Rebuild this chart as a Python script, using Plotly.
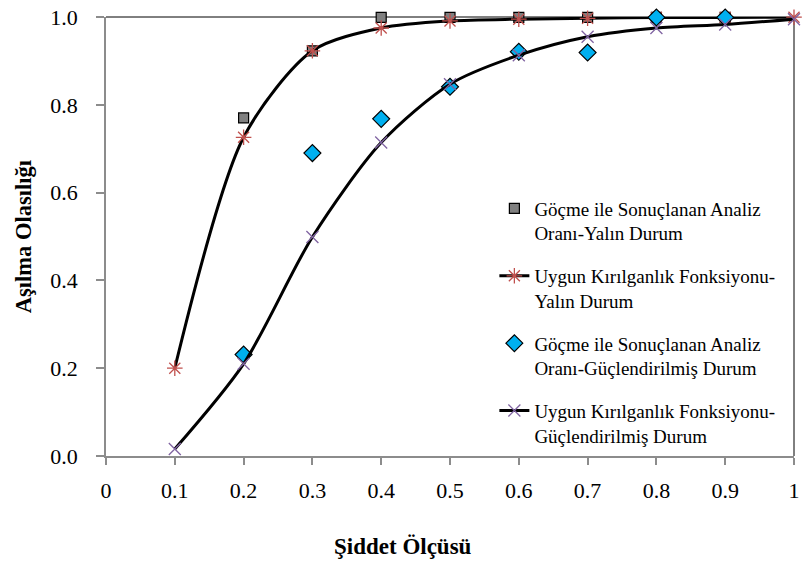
import plotly.graph_objects as go

# Intensity measure values (x axis)
im_all = [0.1, 0.2, 0.3, 0.4, 0.5, 0.6, 0.7, 0.8, 0.9, 1.0]
im_obs = [0.2, 0.3, 0.4, 0.5, 0.6, 0.7, 0.8, 0.9]

# Collapse ratio from analyses - bare frame
collapse_bare = [0.77, 0.923, 0.999, 0.999, 0.999, 0.999, 0.999, 0.999]
# Fitted fragility function - bare frame
fit_bare = [0.20, 0.726, 0.923, 0.975, 0.991, 0.995, 0.997, 0.999, 0.999, 0.9995]
# Collapse ratio from analyses - retrofitted frame
collapse_retro = [0.231, 0.690, 0.768, 0.841, 0.921, 0.919, 0.999, 0.999]
# Fitted fragility function - retrofitted frame
fit_retro = [0.016, 0.21, 0.499, 0.714, 0.847, 0.913, 0.955, 0.975, 0.983, 0.995]

x_tick_vals = [0, 0.1, 0.2, 0.3, 0.4, 0.5, 0.6, 0.7, 0.8, 0.9, 1.0]
x_tick_text = ["0", "0.1", "0.2", "0.3", "0.4", "0.5", "0.6", "0.7", "0.8", "0.9", "1"]
y_tick_vals = [0.0, 0.2, 0.4, 0.6, 0.8, 1.0]

names = [
    "Göçme ile Sonuçlanan Analiz<br>Oranı-Yalın Durum",
    "Uygun Kırılganlık Fonksiyonu-<br>Yalın Durum",
    "Göçme ile Sonuçlanan Analiz<br>Oranı-Güçlendirilmiş Durum",
    "Uygun Kırılganlık Fonksiyonu-<br>Güçlendirilmiş Durum",
]

serif = "Times New Roman"
W, H = 805, 565
M_L, M_R, M_T, M_B = 106, 5, 16, 109
plot_w = W - M_L - M_R
plot_h = H - M_T - M_B

fig = go.Figure()

fig.add_trace(go.Scatter(
    x=im_obs, y=collapse_bare, mode="markers", name=names[0], legendgroup="g1",
    marker=dict(symbol="square", size=10, color="#808080",
                line=dict(color="black", width=1.2)),
    cliponaxis=False,
))
fig.add_trace(go.Scatter(
    x=im_all, y=fit_bare, mode="lines+markers", name=names[1], legendgroup="g2",
    line=dict(color="black", width=3, shape="spline", smoothing=0.8),
    marker=dict(symbol="asterisk-open", size=13, color="#C0504D",
                line=dict(color="#C0504D", width=1.3)),
    cliponaxis=False,
))
fig.add_trace(go.Scatter(
    x=im_obs, y=collapse_retro, mode="markers", name=names[2], legendgroup="g3",
    marker=dict(symbol="diamond", size=13, color="#00B0F0",
                line=dict(color="black", width=1.2)),
    cliponaxis=False,
))
fig.add_trace(go.Scatter(
    x=im_all, y=fit_retro, mode="lines+markers", name=names[3], legendgroup="g4",
    line=dict(color="black", width=3, shape="spline", smoothing=0.8),
    marker=dict(symbol="x-thin-open", size=12, color="#8064A2",
                line=dict(color="#8064A2", width=1.3)),
    cliponaxis=False,
))

axis_gray = "#8C8C8C"

fig.update_layout(
    width=W, height=H,
    margin=dict(l=M_L, r=M_R, t=M_T, b=M_B),
    paper_bgcolor="white", plot_bgcolor="white",
    font=dict(family=serif, size=19, color="black"),
    showlegend=True,
    legend=dict(
        x=0.5645, y=0.607, xanchor="left", yanchor="top",
        font=dict(family=serif, size=19, color="black"),
        bgcolor="rgba(0,0,0,0)", borderwidth=0,
        valign="top", tracegroupgap=15, itemwidth=30,
    ),
    xaxis=dict(
        range=[0, 1], tickmode="array", tickvals=x_tick_vals, ticktext=x_tick_text,
        showgrid=False, zeroline=False, showline=True, linecolor=axis_gray, linewidth=1.5,
        ticks="outside", ticklen=7, tickcolor=axis_gray, tickwidth=1.5,
        ticklabelstandoff=7, ticklabeloverflow="allow",
        tickfont=dict(family=serif, size=22),
    ),
    yaxis=dict(
        range=[0, 1], tickmode="array", tickvals=y_tick_vals, tickformat=".1f",
        showgrid=False, zeroline=False, showline=True, linecolor=axis_gray, linewidth=1.5,
        ticks="outside", ticklen=8, tickcolor=axis_gray, tickwidth=1.5,
        ticklabelstandoff=14, tickfont=dict(family=serif, size=22),
    ),
    shapes=[
        dict(type="line", xref="paper", yref="paper", x0=0, x1=1, y0=1, y1=1,
             line=dict(color="black", width=1), layer="below"),
        dict(type="line", xref="paper", yref="paper", x0=1, x1=1, y0=0, y1=1,
             line=dict(color="black", width=1), layer="below"),
    ],
    annotations=[
        dict(text="<b>Şiddet Ölçüsü</b>", xref="paper", yref="paper",
             x=(406 - M_L) / plot_w, y=-(547 - M_T - plot_h) / plot_h,
             xanchor="center", yanchor="middle", showarrow=False,
             font=dict(family=serif, size=23)),
        dict(text="<b>Aşılma Olasılığı</b>", xref="paper", yref="paper",
             x=-(M_L - 23) / plot_w, y=0.5,
             xanchor="center", yanchor="middle", showarrow=False, textangle=-90,
             font=dict(family=serif, size=22.5)),
    ],
)

fig.write_html("out.html")
